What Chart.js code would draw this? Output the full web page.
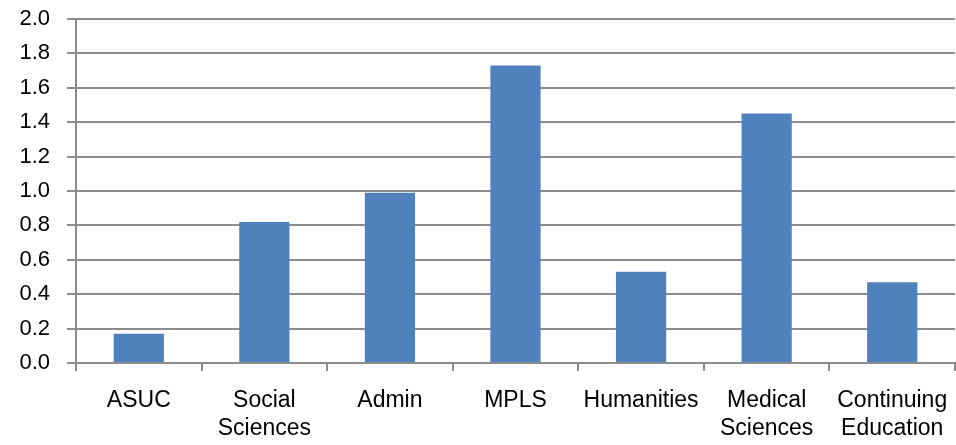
<!DOCTYPE html>
<html lang="en">
<head>
    <meta charset="UTF-8">
    <title>Bar chart</title>
    <script src="https://cdn.jsdelivr.net/npm/chart.js"></script>
    <style>
        html, body {
            margin: 0;
            padding: 0;
            background: #ffffff;
        }
        #wrap {
            width: 956px;
            height: 445px;
        }
    </style>
</head>
<body>
    <div id="wrap"><canvas id="chartCanvas"></canvas></div>

    <script>
        // categories (multi-line labels as drawn under the axis)
        var categories = [
            'ASUC',
            ['Social', 'Sciences'],
            'Admin',
            'MPLS',
            'Humanities',
            ['Medical', 'Sciences'],
            ['Continuing', 'Education']
        ];
        var values = [0.17, 0.82, 0.99, 1.73, 0.53, 1.45, 0.47];
        var yMin = 0;
        var yMax = 2.0;
        var yStep = 0.2;

        var gridColor = '#8c8c8c';
        var fontFamily = '"Liberation Sans", Arial, sans-serif';

        var ctx = document.getElementById('chartCanvas').getContext('2d');
        var myChart = new Chart(ctx, {
            type: 'bar',
            data: {
                labels: categories,
                datasets: [{
                    data: values,
                    backgroundColor: '#4F81BD',
                    barPercentage: 0.4,
                    categoryPercentage: 1.0
                }]
            },
            options: {
                responsive: true,
                maintainAspectRatio: false,
                animation: false,
                layout: { padding: { top: 19, right: 1, left: 0, bottom: 0 } },
                plugins: {
                    legend: { display: false },
                    tooltip: { enabled: false }
                },
                scales: {
                    x: {
                        grid: {
                            offset: true,
                            drawOnChartArea: false,
                            drawTicks: true,
                            tickLength: 8,
                            color: gridColor,
                            lineWidth: 2
                        },
                        border: { color: gridColor, width: 2 },
                        ticks: {
                            color: '#000',
                            font: { family: fontFamily, size: 23, lineHeight: 1.22 },
                            padding: 16,
                            maxRotation: 0,
                            autoSkip: false
                        },
                        afterFit: function(scale) {
                            scale.height = 82;
                            scale.paddingLeft = 0;
                            scale.paddingRight = 0;
                        }
                    },
                    y: {
                        min: yMin,
                        max: yMax,
                        grid: {
                            color: gridColor,
                            lineWidth: 2,
                            tickLength: 9
                        },
                        border: { color: gridColor, width: 2 },
                        ticks: {
                            stepSize: yStep,
                            color: '#000',
                            font: { family: fontFamily, size: 22, lineHeight: 1.2 },
                            padding: 17,
                            callback: function(v) { return v.toFixed(1); }
                        },
                        afterFit: function(scale) {
                            scale.width = 76;
                            scale.paddingTop = 0;
                            scale.paddingBottom = 0;
                        }
                    }
                }
            }
        });
    </script>
</body>
</html>
